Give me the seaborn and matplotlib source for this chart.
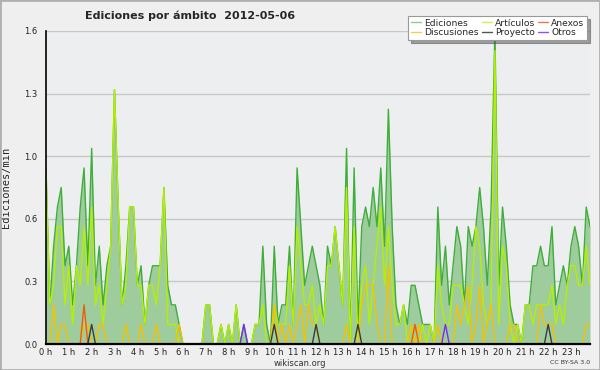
import numpy as np
import matplotlib
matplotlib.use("Agg")
import matplotlib.pyplot as plt
import seaborn as sns
from matplotlib.lines import Line2D
from matplotlib.patches import Rectangle
from matplotlib.ticker import MultipleLocator, FixedLocator, FixedFormatter

# edits per minute, one value per 10-minute slot (144 slots)
ediciones = [
    0.9, 0.2, 0.5, 0.7, 0.8, 0.4, 0.5, 0.2, 0.4, 0.7, 0.9, 0.4,
    1.0, 0.3, 0.5, 0.2, 0.4, 0.5, 1.3, 0.7, 0.2, 0.4, 0.7, 0.7,
    0.3, 0.4, 0.1, 0.3, 0.4, 0.4, 0.4, 0.8, 0.3, 0.2, 0.2, 0.1,
    0, 0, 0, 0, 0, 0, 0.2, 0.2, 0, 0, 0.1, 0,
    0.1, 0, 0.2, 0, 0.1, 0, 0, 0.1, 0.1, 0.5, 0.1, 0,
    0.5, 0.1, 0.2, 0.2, 0.5, 0.1, 0.9, 0.6, 0.3, 0.4, 0.5, 0.4,
    0.3, 0.1, 0.5, 0.4, 0.6, 0.4, 0.2, 1.0, 0, 0.9, 0.1, 0.6,
    0.7, 0.6, 0.8, 0.6, 0.9, 0.5, 1.2, 0.6, 0.2, 0.1, 0.2, 0.1,
    0.3, 0.3, 0.2, 0.1, 0.1, 0.1, 0, 0.7, 0.3, 0.5, 0.2, 0.4,
    0.6, 0.5, 0.2, 0.6, 0.5, 0.6, 0.8, 0.6, 0.3, 0.7, 1.6, 0.3,
    0.7, 0.5, 0.2, 0.1, 0.1, 0, 0.2, 0.2, 0.4, 0.4, 0.5, 0.4,
    0.4, 0.6, 0.2, 0.3, 0.4, 0.3, 0.5, 0.6, 0.5, 0.3, 0.7, 0.6,
]
articulos = [
    0.9, 0.2, 0.3, 0.6, 0.6, 0.2, 0.4, 0.1, 0.4, 0.3, 0.6, 0.3,
    0.7, 0.2, 0.3, 0.1, 0.3, 0.5, 1.3, 0.7, 0.2, 0.3, 0.7, 0.7,
    0.3, 0.3, 0.1, 0.3, 0.3, 0.2, 0.4, 0.8, 0.1, 0.1, 0.1, 0,
    0, 0, 0, 0, 0, 0, 0.2, 0.2, 0, 0, 0.1, 0,
    0.1, 0, 0.2, 0, 0, 0, 0, 0.1, 0.1, 0.2, 0, 0,
    0.2, 0.1, 0.1, 0.1, 0.4, 0.1, 0.6, 0.4, 0.2, 0.2, 0.3, 0.1,
    0.2, 0.1, 0.4, 0.4, 0.6, 0.4, 0.2, 0.8, 0, 0.6, 0, 0.3,
    0.4, 0.1, 0.3, 0.5, 0.7, 0.3, 0.6, 0.3, 0.1, 0.1, 0.2, 0,
    0.1, 0, 0, 0.1, 0, 0.1, 0, 0.4, 0.2, 0.1, 0.1, 0.3,
    0.3, 0.3, 0.2, 0.1, 0.3, 0.6, 0.5, 0.2, 0.1, 0.2, 1.5, 0.1,
    0.5, 0.4, 0.1, 0, 0.1, 0, 0.2, 0.2, 0.1, 0.2, 0.2, 0.2,
    0.2, 0.3, 0.1, 0.2, 0.1, 0.3, 0.4, 0.4, 0.3, 0.3, 0.5, 0.3,
]
discusiones = [
    0, 0, 0.2, 0, 0.1, 0.1, 0, 0, 0, 0, 0.1, 0.1,
    0, 0, 0.1, 0.1, 0, 0, 0, 0, 0, 0.1, 0, 0,
    0, 0.1, 0, 0, 0, 0.1, 0, 0, 0, 0, 0, 0.1,
    0, 0, 0, 0, 0, 0, 0, 0, 0, 0, 0, 0,
    0, 0, 0, 0, 0, 0, 0, 0, 0, 0, 0, 0,
    0.2, 0, 0.1, 0, 0.1, 0, 0.1, 0.2, 0, 0.2, 0.1, 0.1,
    0, 0, 0, 0, 0, 0, 0, 0.1, 0, 0, 0, 0.2,
    0.3, 0.3, 0.3, 0.1, 0, 0, 0.4, 0, 0, 0, 0, 0,
    0.1, 0, 0.1, 0, 0, 0, 0, 0.1, 0, 0, 0, 0,
    0.2, 0.1, 0.2, 0.3, 0, 0.1, 0.3, 0, 0.1, 0.2, 0, 0,
    0, 0, 0.1, 0.1, 0, 0, 0, 0, 0, 0, 0.2, 0.1,
    0.1, 0.1, 0, 0, 0, 0, 0, 0, 0, 0, 0.1, 0.1,
]
# sparse series: slot -> value
anexos_pts = {10: 0.2, 97: 0.1}
proyecto_pts = {12: 0.1, 60: 0.1, 71: 0.1, 82: 0.1, 132: 0.1}
otros_pts = {52: 0.1, 105: 0.1}

hour_labels = ["{} h".format(h) for h in range(24)]
ytick_vals = [0, 0.32, 0.64, 0.96, 1.28, 1.6]
ytick_labels = ["0.0", "0.3", "0.6", "1.0", "1.3", "1.6"]

n = len(ediciones)
hours = np.arange(n) / 6.0


def sparse(pts):
    out = np.zeros(n)
    for k, v in pts.items():
        out[k] = v
    return out


anexos = sparse(anexos_pts)
proyecto = sparse(proyecto_pts)
otros = sparse(otros_pts)

sns.set_theme(style="white")
plt.rcParams['font.family'] = ['DejaVu Sans']

fig = plt.figure(figsize=(6, 3.7), dpi=100, facecolor="#efefef")
ax = fig.add_axes([46 / 600, 26 / 370, 544 / 600, 313 / 370])
ax.set_facecolor("#edeef0")

# total edits as filled area
ax.fill_between(hours, ediciones, color="#9fcc9d", lw=0, zorder=1)
sns.lineplot(x=hours, y=ediciones, ax=ax, color="#3fae3a", lw=1, zorder=2)
sns.lineplot(x=hours, y=articulos, ax=ax, color="#b4f000", lw=1, zorder=2.1)
sns.lineplot(x=hours, y=discusiones, ax=ax, color="#f3c200", lw=1, zorder=2.2)
sns.lineplot(x=hours, y=anexos, ax=ax, color="#f05a10", lw=1, zorder=2.3)
sns.lineplot(x=hours, y=proyecto, ax=ax, color="#3a3a3a", lw=1, zorder=2.3)
sns.lineplot(x=hours, y=otros, ax=ax, color="#7a2cf0", lw=1, zorder=2.3)

ax.set_xlim(0, hours[-1])
ax.set_ylim(0, 1.6)

ax.yaxis.set_major_locator(FixedLocator(ytick_vals))
ax.yaxis.set_major_formatter(FixedFormatter(ytick_labels))
ax.yaxis.set_minor_locator(MultipleLocator(0.16))
ax.xaxis.set_major_locator(FixedLocator(list(range(24))))
ax.xaxis.set_major_formatter(FixedFormatter(hour_labels))
ax.xaxis.set_minor_locator(MultipleLocator(1 / 6))

ax.grid(axis="y", which="major", color="#c8c8c8", lw=1)
ax.set_axisbelow(True)
for s in ["top", "right"]:
    ax.spines[s].set_visible(False)
ax.spines["left"].set_color("black")
ax.spines["left"].set_linewidth(1.2)
ax.spines["bottom"].set_color("black")
ax.spines["bottom"].set_linewidth(1.6)
ax.spines["left"].set_zorder(5)
ax.spines["bottom"].set_zorder(5)

ax.tick_params(axis="both", which="both", direction="out", colors="black",
               labelsize=6, pad=1)
ax.tick_params(axis="y", which="major", length=5, width=1)
ax.tick_params(axis="y", which="minor", length=3, width=1)
ax.tick_params(axis="x", which="major", length=3, width=1, pad=0)
ax.tick_params(axis="x", which="minor", length=3, width=1)
ax.tick_params(axis="both", labelcolor="#222222")

ax.set_ylabel("Ediciones/min", family="DejaVu Sans Mono", fontsize=7.5,
              labelpad=10)

fig.text(85 / 600, 1 - 16 / 370, "Ediciones por ámbito  2012-05-06",
         fontsize=8, fontweight="bold", va="center", ha="left")
fig.text(300 / 600, 1 - 363 / 370, "wikiscan.org", fontsize=6,
         ha="center", va="center", color="#333333")
fig.text(590 / 600, 1 - 363 / 370, "CC BY-SA 3.0", fontsize=4.5,
         ha="right", va="center", color="#333333")

handles = [
    Line2D([], [], color="#86d483", lw=1),
    Line2D([], [], color="#f6cf45", lw=1),
    Line2D([], [], color="#c8f050", lw=1),
    Line2D([], [], color="#555555", lw=1),
    Line2D([], [], color="#f07840", lw=1),
    Line2D([], [], color="#9050f0", lw=1),
]
labels = ["Ediciones", "Discusiones", "Artículos", "Proyecto", "Anexos", "Otros"]
leg = ax.legend(handles, labels, ncol=3, loc="upper right",
                bbox_to_anchor=(1.003, 1.063), fontsize=6.6, frameon=True,
                fancybox=False, shadow=True, handlelength=1.1,
                handletextpad=0.35, columnspacing=0.3, labelspacing=0.05,
                borderpad=0.3)
leg.get_frame().set_edgecolor("#999999")
leg.get_frame().set_linewidth(0.8)
leg.set_zorder(10)

fig.patches.append(Rectangle((0, 0), 1, 1, transform=fig.transFigure,
                             fill=False, ec="#b0b0b0", lw=2))

plt.savefig("out.png", dpi=100, facecolor=fig.get_facecolor())
